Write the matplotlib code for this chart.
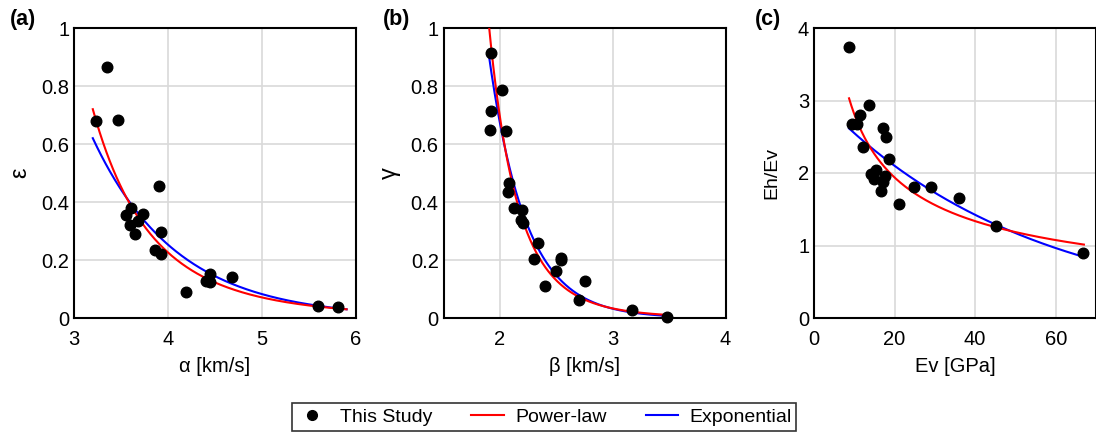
import numpy as np
import matplotlib
matplotlib.use("Agg")
import matplotlib.pyplot as plt
from matplotlib.lines import Line2D

plt.rcParams['font.family'] = ['Liberation Sans', 'DejaVu Sans']

# (a) alpha vs epsilon
alpha = [3.233, 3.353, 3.463, 3.908, 3.555, 3.604, 3.739, 3.594, 3.682, 3.650,
         3.929, 3.862, 3.929, 4.187, 4.403, 4.445, 4.445, 4.682, 5.60, 5.806]
eps = [0.680, 0.864, 0.682, 0.456, 0.354, 0.381, 0.360, 0.320, 0.335, 0.291,
       0.295, 0.236, 0.220, 0.090, 0.128, 0.151, 0.124, 0.142, 0.040, 0.038]

# (b) beta vs gamma
beta = [1.919, 2.015, 1.925, 1.910, 2.054, 2.081, 2.069, 2.128, 2.197, 2.188,
        2.209, 2.334, 2.301, 2.543, 2.540, 2.499, 2.397, 2.758, 2.704, 3.170, 3.484]
gamma = [0.915, 0.785, 0.713, 0.649, 0.644, 0.467, 0.433, 0.380, 0.371, 0.337,
         0.328, 0.257, 0.204, 0.207, 0.200, 0.161, 0.112, 0.129, 0.062, 0.029, 0.003]

# (c) Ev vs Eh/Ev
ev = [8.71, 13.69, 11.37, 9.54, 10.62, 17.01, 17.76, 12.20, 18.59, 14.19, 15.35,
      14.77, 17.51, 17.10, 16.60, 21.00, 24.81, 29.13, 35.93, 45.23, 66.89]
ehev = [3.742, 2.937, 2.799, 2.674, 2.674, 2.619, 2.490, 2.361, 2.196, 1.989, 2.039,
        1.924, 1.961, 1.869, 1.749, 1.570, 1.809, 1.809, 1.662, 1.266, 0.902]

# fitted curves: y = a*x^b (power-law), y = a*exp(b*x) (exponential)
fit_range = [(3.2, 5.9), (1.9, 3.5), (8.7, 67.0)]
power_fit = [(0.72 * 3.2 ** 5.195, -5.195), (1.905 ** 7.51, -7.51), (3.03 * 8.7 ** 0.5368, -0.5368)]
expo_fit = [(0.62 * np.exp(1.1215 * 3.2), -1.1215), (0.912 * np.exp(3.044 * 1.9), -3.044),
            (2.615 * np.exp(0.01944 * 8.7), -0.01944)]

xs_list = [alpha, beta, ev]
ys_list = [eps, gamma, ehev]
xlabels = ['α [km/s]', 'β [km/s]', 'Ev [GPa]']
ylabels = ['ε', 'γ', 'Eh/Ev']
ylab_size = [17, 17, 14]
ylab_x = [-0.15, -0.152, -0.118]
panel = ['(a)', '(b)', '(c)']
panel_x = [10, 383, 755]
xlims = [(3, 6), (1.5, 4), (0, 70)]
ylims = [(0, 1), (0, 1), (0, 4)]
xticks = [[3, 4, 5, 6], [2, 3, 4], [0, 20, 40, 60]]
yticks = [[0, 0.2, 0.4, 0.6, 0.8, 1], [0, 0.2, 0.4, 0.6, 0.8, 1], [0, 1, 2, 3, 4]]
ytl = [['0', '0.2', '0.4', '0.6', '0.8', '1'], ['0', '0.2', '0.4', '0.6', '0.8', '1'],
       ['0', '1', '2', '3', '4']]

W, H = 1096, 442
fig = plt.figure(figsize=(W / 100, H / 100), dpi=100)
lefts = [74, 443.5, 814]
for i in range(3):
    ax = fig.add_axes([lefts[i] / W, 1 - 318 / H, 282 / W, 290 / H])
    ax.grid(True, color='#d9d9d9', lw=1.2)
    ax.set_axisbelow(True)
    x0, x1 = fit_range[i]
    xf = np.linspace(x0, x1, 300)
    a, b = expo_fit[i]
    ax.plot(xf, a * np.exp(b * xf), color='blue', lw=1.5, zorder=3)
    a, b = power_fit[i]
    ax.plot(xf, a * xf ** b, color='red', lw=1.5, zorder=4)
    ax.scatter(xs_list[i], ys_list[i], s=58, color='black', zorder=5, clip_on=False)
    ax.set_xlim(xlims[i])
    ax.set_ylim(ylims[i])
    ax.set_xticks(xticks[i])
    ax.set_yticks(yticks[i])
    ax.set_yticklabels(ytl[i])
    ax.tick_params(length=0, labelsize=14.5)
    ax.tick_params(axis='x', pad=8.5)
    ax.tick_params(axis='y', pad=3.5)
    for s in ax.spines.values():
        s.set_linewidth(1.5)
    ax.set_xlabel(xlabels[i], fontsize=14.5, labelpad=6)
    ax.set_ylabel(ylabels[i], fontsize=ylab_size[i])
    ax.yaxis.set_label_coords(ylab_x[i], 0.5)
    fig.text(panel_x[i] / W, 1 - 9 / H, panel[i], fontsize=15.5,
             fontweight='bold', ha='left', va='top')

handles = [Line2D([], [], marker='o', ls='none', color='black', markersize=7),
           Line2D([], [], color='red', lw=1.5),
           Line2D([], [], color='blue', lw=1.5)]
leg = fig.legend(handles, ['This Study', 'Power-law', 'Exponential'], ncol=3,
                 loc='center', bbox_to_anchor=(544 / W, 1 - 417 / H), fontsize=14,
                 frameon=True, fancybox=False, edgecolor='black', columnspacing=2.0,
                 handlelength=1.65, handletextpad=0.6, borderpad=0.25, borderaxespad=0)
leg.get_frame().set_linewidth(1.2)

fig.savefig('out.png', dpi=100)
